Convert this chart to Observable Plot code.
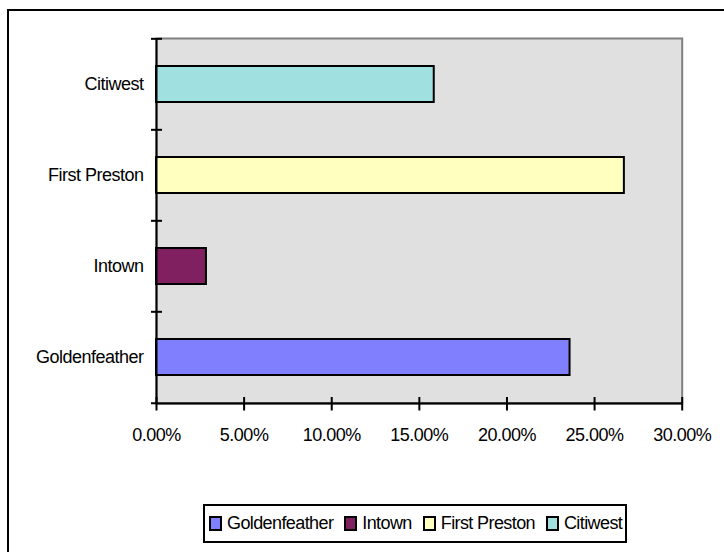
<!DOCTYPE html>
<html>
<head>
<meta charset="utf-8">
<script src="https://cdn.jsdelivr.net/npm/d3@7"></script>
<script src="https://cdn.jsdelivr.net/npm/@observablehq/plot@0.6"></script>
<style>
  html, body { margin: 0; padding: 0; background: #fff; overflow: hidden; width: 724px; height: 552px; }
  #wrap { position: relative; width: 724px; height: 552px; font-family: "Liberation Sans", Arial, sans-serif; }
  #outer { position: absolute; left: 7px; top: 9px; width: 760px; height: 600px; border: 2px solid #000; box-sizing: border-box; }
  #chart { position: absolute; left: 0; top: 0; }
  #legend { position: absolute; left: 203px; top: 504px; width: 424px; height: 39px; box-sizing: border-box; border: 2px solid #000; background: #fff;
            display: flex; align-items: center; padding-left: 4px; font-size: 18px; letter-spacing: -0.6px; color: #000; }
  .item { display: flex; align-items: center; margin-right: 11px; white-space: nowrap; }
  .sw { width: 13px; height: 15px; box-sizing: border-box; border: 2px solid #000; margin-right: 5px; }
</style>
</head>
<body>
<div id="wrap">
  <div id="outer"></div>
  <div id="chart"></div>
  <div id="legend"></div>
</div>
<script>
const names = ["Goldenfeather", "Intown", "First Preston", "Citiwest"];
const values = [0.236, 0.0285, 0.267, 0.1585];
const colors = ["#8080FF", "#802060", "#FFFFC0", "#A0E0E0"];
const xTicks = [0, 0.05, 0.10, 0.15, 0.20, 0.25, 0.30];

const data = names.map((name, i) => ({name, value: values[i]}));

const W = 724, H = 552, mt = 38, mb = 148.5, ml = 156, mr = 42.3;
const innerH = H - mt - mb;
const step = innerH / names.length;

const chart = Plot.plot({
  width: W,
  height: H,
  marginTop: mt,
  marginBottom: mb,
  marginLeft: ml,
  marginRight: mr,
  style: {background: "transparent", fontFamily: "'Liberation Sans', Arial, sans-serif", fontSize: "18px", letterSpacing: "-0.5px", color: "#000"},
  x: {domain: [0, 0.3], axis: null, label: null},
  y: {domain: names.slice().reverse(), paddingInner: 0.6, paddingOuter: 0.3, axis: null, label: null},
  color: {domain: names, range: colors},
  marks: [
    Plot.frame({fill: "#E0E0E0", stroke: "#808080", strokeWidth: 2}),
    Plot.barX(data, {x: "value", y: "name", fill: "name", stroke: "#000", strokeWidth: 2}),
    Plot.ruleX([0], {stroke: "#000", strokeWidth: 2}),
    Plot.ruleY([names[0]], {y: d => d, x1: 0, x2: 0.3, dy: step / 2, insetLeft: -5, stroke: "#000", strokeWidth: 2}),
    Plot.ruleY(names, {y: d => d, x1: 0, x2: 0, dy: -step / 2, insetLeft: -5, insetRight: -6, stroke: "#000", strokeWidth: 2}),
    Plot.tickX(xTicks, {x: d => d, insetTop: innerH - 6.5, insetBottom: -7, stroke: "#000", strokeWidth: 2}),
    Plot.axisY({tickSize: 0, tickPadding: 13, fontSize: 18, label: null}),
    Plot.axisX(xTicks, {tickSize: 0, tickPadding: 24, fontSize: 18, label: null, tickFormat: d => (d * 100).toFixed(2) + "%"})
  ]
});
document.getElementById("chart").appendChild(chart);

const legend = document.getElementById("legend");
names.forEach((n, i) => {
  const item = document.createElement("div");
  item.className = "item";
  const sw = document.createElement("div");
  sw.className = "sw";
  sw.style.background = colors[i];
  const t = document.createElement("span");
  t.textContent = n;
  item.appendChild(sw);
  item.appendChild(t);
  legend.appendChild(item);
});
</script>
</body>
</html>
